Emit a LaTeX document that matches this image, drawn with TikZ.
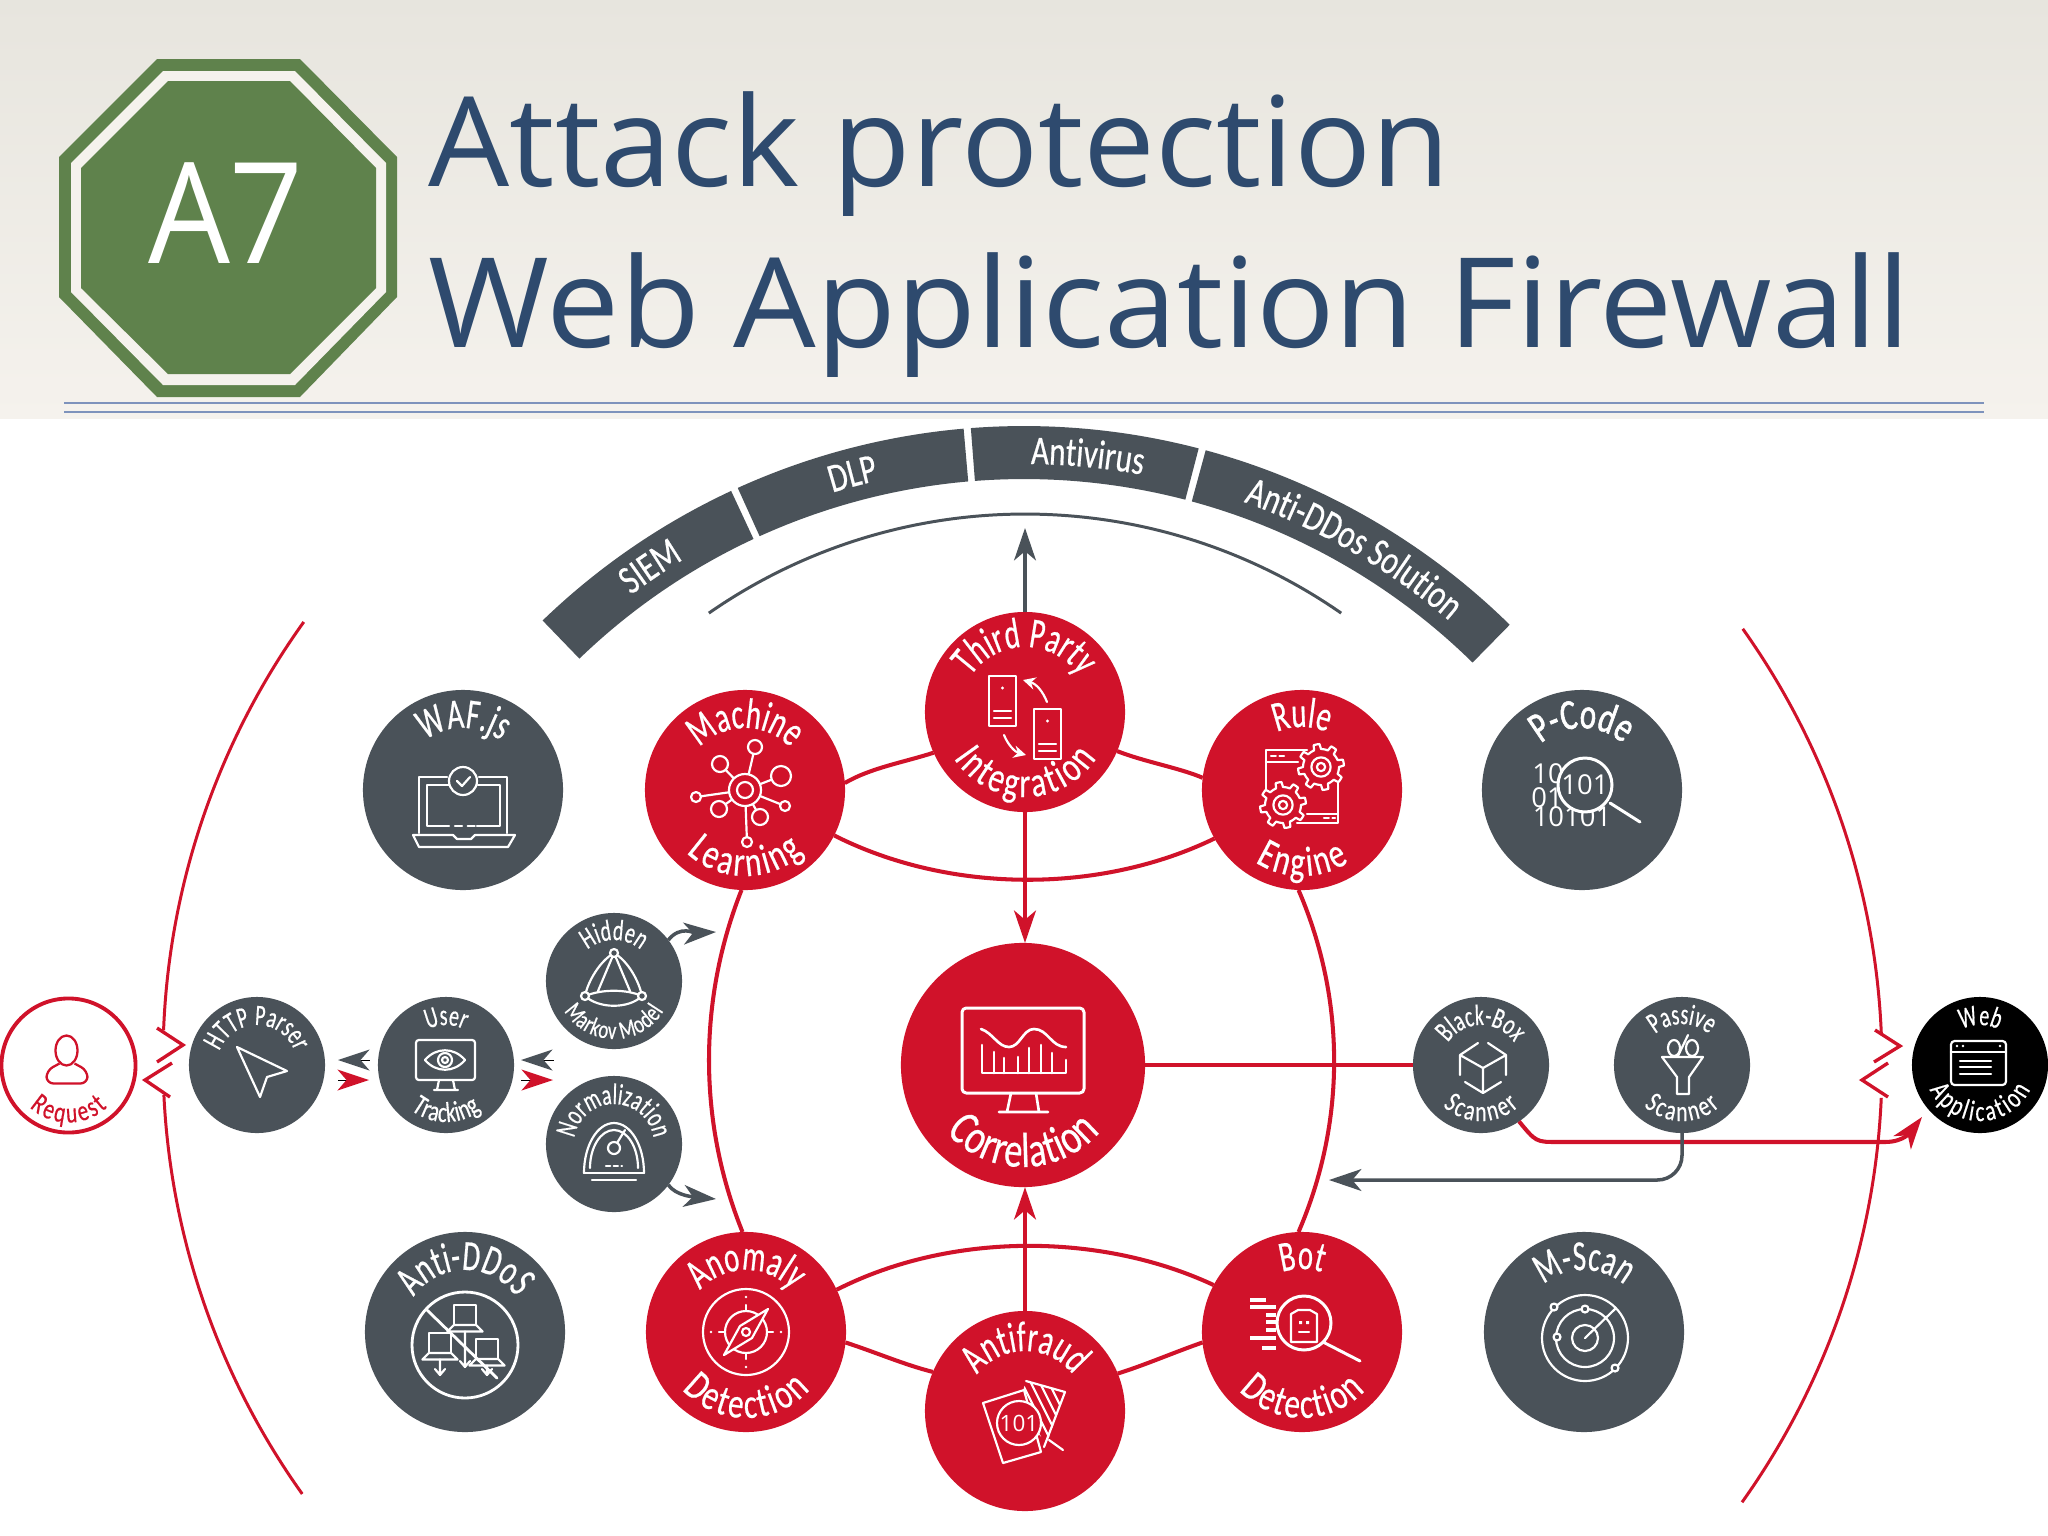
\documentclass[tikz,border=0pt]{standalone}
\usepackage{fontspec}
\usetikzlibrary{decorations.text,arrows.meta,shapes.geometric}
\setmainfont{Open Sans}
\newfontfamily\condT[FakeStretch=0.67,FakeBold=0.5]{Carlito}
\newfontfamily\condB[FakeStretch=0.74,FakeBold=0.5]{Carlito}
\newfontfamily\condM[FakeStretch=0.76,FakeBold=0.5]{Carlito}
\newfontfamily\condP[FakeStretch=0.72,FakeBold=1.4]{Carlito}
\newfontfamily\titleA[FakeStretch=1.026]{Open Sans}
\newfontfamily\titleB[FakeStretch=1.045]{Open Sans}
\definecolor{wafred}{RGB}{208,18,42}
\definecolor{wafgrey}{RGB}{74,82,89}
\definecolor{wafgreen}{RGB}{95,130,76}
\definecolor{waftitle}{RGB}{46,74,110}
\definecolor{wafrule}{RGB}{126,147,188}
\definecolor{paperA}{RGB}{231,229,222}
\definecolor{paperB}{RGB}{241,239,233}
\definecolor{paperC}{RGB}{245,242,237}
\newcommand\fBig{\condT\fontsize{12.2}{14}\selectfont\color{white}}
\newcommand\fBigB{\condB\fontsize{12}{14}\selectfont\color{white}}
\newcommand\fPc{\condP\fontsize{12.2}{14}\selectfont\color{white}}
\newcommand\fBand{\condM\fontsize{11.6}{13}\selectfont\color{white}}
\newcommand\fCorr{\condB\fontsize{14}{16}\selectfont\color{white}}
\newcommand\fSm{\condT\fontsize{8.4}{10}\selectfont\color{white}}
\newcommand\fSmB{\condB\fontsize{8.2}{10}\selectfont\color{white}}
\newcommand\fSmm{\condB\fontsize{7.2}{9}\selectfont\color{white}}
\newcommand\fReq{\condB\fontsize{8.2}{10}\selectfont\color{wafred}}
\newcommand\topT[4]{\path[decorate,decoration={text along path,text align=center,text={|#4|#3}}] (#1) ++(178:#2) arc[start angle=178,end angle=2,radius=#2];}
% bottom text: node, baseline radius, half angle of its span, text, font
\newcommand\botT[5]{\path[decorate,decoration={text along path,text align={fit to path},text={|#5|#4}}] (#1) ++({270-#3}:#2) arc[start angle={270-#3},end angle={270+#3},radius=#2];}
\newcommand\sector[2]{\fill[wafgrey] ([shift={(#1:693)}]bandc) arc[start angle=#1,end angle=#2,radius=693] -- ([shift={(#2:640)}]bandc) arc[start angle=#2,end angle=#1,radius=640] -- cycle;}
\newcommand\bandT[3]{\path[decorate,decoration={text along path,text align=center,text={|\fBand|#3}}] ([shift={(#1:655)}]bandc) arc[start angle=#1,end angle=#2,radius=655];}
\newcommand\gearI[3]{\draw[icon,fill=wafred] plot[samples=97,domain=0:360] ({#1+#3*(0.78+0.22*(sin(8*\x)>0))*cos(\x)},{#2+#3*(0.78+0.22*(sin(8*\x)>0))*sin(\x)}) -- cycle; \draw[icon] (#1,#2) circle[radius=#3*0.42] (#1,#2) circle[radius=#3*0.18];}
\newcommand\lapI[4]{\draw[icon] (#1-#3*.5,#2-#3*.45) rectangle (#1+#3*.5,#2+#3*.45);
 \draw[icon,fill=wafgrey] (#1-#3*.5,#2-#3*.45) -- (#1-#3*.8,#2-#3*.75) -- (#1+#3*.8,#2-#3*.75) -- (#1+#3*.5,#2-#3*.45) -- cycle;
 \draw[icon] (#1,#2-#3*.75) -- (#1,#2-#4) (#1-5,#2-#4+6) -- (#1,#2-#4) -- (#1+5,#2-#4+6);}
\tikzset{
 x=0.01cm,y=0.01cm,
 bigred/.style={circle,fill=wafred,minimum size=2cm,inner sep=0pt,outer sep=0pt},
 biggrey/.style={circle,fill=wafgrey,minimum size=2cm,inner sep=0pt,outer sep=0pt},
 smallgrey/.style={circle,fill=wafgrey,minimum size=1.36cm,inner sep=0pt,outer sep=0pt},
 redline/.style={draw=wafred,line width=1.15pt},
 greyline/.style={draw=wafgrey,line width=1.0pt},
 redarc/.style={draw=wafred,line width=.85pt},
 zig/.style={draw=wafred,line width=.95pt},
 icon/.style={draw=white,line width=.62pt,line join=round,line cap=round},
 icontext/.style={text=white,inner sep=0pt},
 tipred/.style={-{Stealth[length=9.2pt,width=6.2pt,inset=2.6pt,fill=wafred]}},
 tipgrey/.style={-{Stealth[length=9.2pt,width=6.2pt,inset=2.6pt,fill=wafgrey]}},
}
\begin{document}
\begin{tikzpicture}
\useasboundingbox (0,0) rectangle (2048,-1536);
\fill[white] (0,0) rectangle (2048,-1536);
\shade[top color=paperA,middle color=paperB,bottom color=paperC] (0,0) rectangle (2048,-418);
% header
\fill[wafgreen] (157,-59)--(300,-59)--(397,-157)--(397,-297)--(300,-397)--(157,-397)--(59,-297)--(59,-157)--cycle;
\fill[paperC] (163,-71)--(295,-71)--(386,-163)--(386,-292)--(295,-385)--(163,-385)--(71,-292)--(71,-163)--cycle;
\fill[wafgreen] (168,-81)--(290,-81)--(376,-168)--(376,-288)--(290,-374)--(168,-374)--(81,-288)--(81,-168)--cycle;
\node[anchor=base,text=white,inner sep=0pt] (a7) at (226,-263) {\fontspec{Open Sans}[FakeStretch=.92]\fontsize{40}{44}\selectfont A7};
\node[anchor=base west,text=waftitle,inner sep=0pt] (t1) at (428,-186) {\titleA\fontsize{35.5}{40}\selectfont Attack protection};
\node[anchor=base west,text=waftitle,inner sep=0pt] (t2) at (428,-347) {\titleB\fontsize{35.5}{40}\selectfont Web Application Firewall};
\draw[wafrule,line width=.6pt] (64,-403) -- (1984,-403) (64,-412) -- (1984,-412);
% band
\coordinate (bandc) at (1024,-1119);
\sector{134}{115}\sector{114.4}{95}\sector{94.4}{75.4}\sector{74.8}{45.5}
\bandT{133.6}{114.6}{SIEM}\bandT{114.6}{95.2}{DLP}\bandT{94}{75}{Antivirus}\bandT{74.6}{45.3}{Anti-DDos Solution}
\coordinate (thinc) at (1025,-1068);
\draw[wafgrey,line width=.85pt] ([shift={(124.8:554)}]thinc) arc[start angle=124.8,end angle=55.2,radius=554];
% outer rings
\coordinate (lc) at (912,-1059);
\coordinate (rc) at (1129,-1065);
\draw[redarc] ([shift={(144.3:749)}]lc) arc[start angle=144.3,end angle=177.8,radius=749];
\draw[redarc] ([shift={(182.75:749)}]lc) arc[start angle=182.75,end angle=215.5,radius=749];
\draw[redarc] ([shift={(35.4:753)}]rc) arc[start angle=35.4,end angle=2.3,radius=753];
\draw[redarc] ([shift={(-2.5:753)}]rc) arc[start angle=-2.5,end angle=-35.5,radius=753];
\draw[zig] (157,-1028)--(183,-1045)--(157,-1062);
\draw[zig] (172,-1063)--(145,-1080)--(170,-1097);
\draw[zig] (1875,-1030)--(1900,-1046)--(1874,-1062);
\draw[zig] (1888,-1063)--(1862,-1080)--(1888,-1097);
% nodes
\node[bigred] (tp) at (1025,-712) {};
\node[bigred] (ml) at (745,-790) {};
\node[bigred] (re) at (1302,-790) {};
\node[biggrey] (waf) at (463,-790) {};
\node[biggrey] (pc) at (1582,-790) {};
\node[circle,fill=wafred,minimum size=2.44cm,inner sep=0pt,outer sep=0pt] (co) at (1023,-1065) {};
\node[biggrey] (ad) at (465,-1332) {};
\node[bigred] (an) at (746,-1332) {};
\node[bigred] (af) at (1025,-1411) {};
\node[bigred] (bd) at (1302,-1332) {};
\node[biggrey] (ms) at (1584,-1332) {};
\node[circle,fill=white,draw=wafred,line width=1.1pt,minimum size=1.34cm,inner sep=0pt,outer sep=0pt] (rq) at (68.5,-1065.5) {};
\node[smallgrey] (hp) at (257,-1065) {};
\node[smallgrey] (ut) at (446,-1065) {};
\node[smallgrey] (hm) at (614,-981) {};
\node[smallgrey] (no) at (614,-1144) {};
\node[smallgrey] (bb) at (1481,-1065) {};
\node[smallgrey] (ps) at (1682,-1065) {};
\node[smallgrey,fill=black] (wa) at (1980,-1065) {};
% red connectors
\draw[redline] (ml.4) .. controls (870,-768) and (905,-762) .. (tp.204.5);
\draw[redline] (tp.-23.7) .. controls (1145,-762) and (1180,-768) .. (re.173);
\draw[redline] (ml.-27) .. controls (950,-894) and (1100,-894) .. (re.209);
\draw[redline] (an.25) .. controls (950,-1232) and (1100,-1232) .. (bd.152.4);
\draw[redline] (an.-6) .. controls (875,-1352) and (905,-1365) .. (af.157);
\draw[redline] (bd.186) .. controls (1175,-1352) and (1145,-1365) .. (af.22.8);
\draw[redline] (ml.-92) .. controls (698,-1000) and (698,-1122) .. (an.92);
\draw[redline] (re.-92) .. controls (1346,-1000) and (1346,-1122) .. (bd.92);
\draw[redline,tipred] (tp.south) -- (co.north -| tp.south);
\draw[redline,tipred] (af.north) -- (co.south -| af.north);
\draw[redline] (co.east) -- (bb.west);
\draw[redline,tipred] (bb.-56) .. controls (1536,-1142) .. (1558,-1142) -- (1885,-1142) .. controls (1905,-1142) and (1912,-1130) .. (1922,-1117);
% grey connectors
\coordinate (uptip) at (1025,-528);
\draw[greyline,tipgrey] (tp.north) -- (uptip);
\draw[greyline,rounded corners=7pt,tipgrey] (ps.south) -- (1682,-1180) -- (1329,-1180);
\draw[greyline,tipgrey] (hm.37) .. controls (680,-925) and (695,-933) .. (716,-932);
\draw[greyline,tipgrey] (no.-37) .. controls (676,-1196) and (695,-1197) .. (716,-1199);
% little tips
\draw[line width=0pt,-{Stealth[length=9pt,width=6pt,inset=2.6pt,fill=wafgrey,wafgrey]}] (369,-1060) -- (338,-1060);
\draw[line width=0pt,-{Stealth[length=9pt,width=6pt,inset=2.6pt,fill=wafred,wafred]}] (338,-1080) -- (369,-1080);
\draw[line width=0pt,-{Stealth[length=9pt,width=6pt,inset=2.6pt,fill=wafgrey,wafgrey]}] (553,-1060) -- (521,-1060);
\draw[line width=0pt,-{Stealth[length=9pt,width=6pt,inset=2.6pt,fill=wafred,wafred]}] (521,-1080) -- (553,-1080);
% texts
\topT{tp}{65}{Third Party}{\fBig}\botT{tp}{85}{57}{Integration}{\fBigB}
\topT{ml}{62}{Machine}{\fBig}\botT{ml}{86}{43}{Learning}{\fBigB}
\topT{re}{63}{Rule}{\fBig}\botT{re}{86}{33}{Engine}{\fBigB}
\topT{waf}{62}{WAF.js}{\fBig}
\topT{pc}{62}{P-Code}{\fPc}
\botT{co}{102}{49}{Correlation}{\fCorr}
\topT{ad}{62}{Anti-DDoS}{\fBig}
\topT{an}{62}{Anomaly}{\fBig}\botT{an}{86}{48}{Detection}{\fBigB}
\topT{af}{60}{Antifraud}{\fBig}
\topT{bd}{63}{Bot}{\fBig}\botT{bd}{86}{47}{Detection}{\fBigB}
\topT{ms}{62}{M-Scan}{\fBig}
\botT{rq}{57}{43}{Request}{\fReq}
\topT{hp}{40}{HTTP Parser}{\fSm}
\topT{ut}{40}{User}{\fSm}\botT{ut}{57}{38}{Tracking}{\fSmB}
\topT{hm}{41}{Hidden}{\fSm}\botT{hm}{58}{59}{Markov Model}{\fSmm}
\topT{no}{40}{Normalization}{\fSm}
\topT{bb}{40}{Black-Box}{\fSm}\botT{bb}{56}{43}{Scanner}{\fSmB}
\topT{ps}{41}{Passive}{\fSm}\botT{ps}{56}{43}{Scanner}{\fSmB}
\topT{wa}{40}{Web}{\fSm}\botT{wa}{56}{64}{Application}{\fSmB}
% icon: machine learning
\begin{scope}[shift={(745,-790)}]
 \draw[icon] (0,0)--(10,43) (0,0)--(-25,26) (0,0)--(36,14) (0,0)--(-49,-7) (0,0)--(40,-16) (0,0)--(-26,-19) (0,0)--(15,-27) (0,0)--(2,-52);
 \foreach \a/\b/\r in {10/43/7,-25/26/8,36/14/10,-49/-7/5,40/-16/5,-26/-19/8,15/-27/8,2/-52/5}{\draw[icon,fill=wafred] (\a,\b) circle[radius=\r];}
 \draw[icon,fill=wafred] (0,0) circle[radius=16]; \draw[icon] (0,0) circle[radius=8];
\end{scope}
% icon: WAF.js
\begin{scope}[shift={(463,-790)}]
 \draw[icon] (-16,13) -- (-44,13) -- (-44,-43) (44,-43) -- (44,13) -- (16,13) (-14,5) -- (-36,5) -- (-36,-36) -- (-14,-36) (14,-36) -- (37,-36) -- (37,5) -- (15,5);
 \draw[icon,dash pattern=on 2pt off 1.6pt] (-8,-36) -- (12,-36);
 \draw[icon] (0,9) circle[radius=14] (-6,9) -- (-1,4) -- (7,13);
 \draw[icon] (-50,-45) -- (-10,-45) -- (-6,-49) -- (8,-49) -- (12,-45) -- (52,-45) -- (45,-57) -- (-44,-57) -- cycle;
\end{scope}
% icon: third party
\begin{scope}[shift={(1025,-712)}]
 \foreach \x/\y in {-36/-14,9/-47}{
  \draw[icon] (\x,\y) rectangle (\x+27,\y+50);
  \fill[white] (\x+13.5,\y+38) circle[radius=1.6];
  \draw[icon] (\x+5,\y+15) -- (\x+22,\y+15) (\x+5,\y+8) -- (\x+22,\y+8);
 }
 \draw[icon,-{Stealth[length=3.5pt,width=3.5pt]}] (22,10) .. controls (18,20) and (12,28) .. (-2,32);
 \draw[icon,-{Stealth[length=3.5pt,width=3.5pt]}] (-21,-23) .. controls (-17,-33) and (-10,-40) .. (1,-43);
\end{scope}
% icon: rule engine
\begin{scope}[shift={(1302,-790)}]
 \draw[icon] (-36,-5) -- (-36,40) -- (5,40) (36,10) -- (36,-33) -- (-5,-33);
 \draw[icon] (-36,28) -- (-4,28) (5,-24) -- (35,-24);
 \draw[icon,dash pattern=on 1.4pt off 1pt] (-31,34) -- (-18,34) (22,-28) -- (33,-28);
 \gearI{19}{23}{23}
 \gearI{-19}{-15}{23}
\end{scope}
% icon: p-code
\begin{scope}[shift={(1582,-790)}]
 \node[icontext,anchor=center] (pc10a) at (-34,16) {\fontsize{7.8}{8}\selectfont 10};
 \node[icontext,anchor=center] (pc01) at (-35,-8) {\fontsize{7.8}{8}\selectfont 01};
 \node[icontext,anchor=center] (pc10101) at (-10,-27) {\fontsize{7.8}{8}\selectfont 10101};
 \draw[icon,fill=wafgrey,line width=.85pt] (3,5) circle[radius=27];
 \node[icontext,anchor=center] (pc101) at (3,5) {\fontsize{7.8}{8}\selectfont 101};
 \draw[icon,line width=.85pt] (28,-13) -- (58,-32);
\end{scope}
% icon: correlation
\begin{scope}[shift={(1023,-1065)}]
 \draw[icon,rounded corners=1.2pt,line width=.85pt] (-61,-28) rectangle (61,57);
 \draw[icon,line width=.75pt] (-12,-28) -- (-16,-47) (13,-28) -- (16,-47) (-24,-47) -- (25,-47);
 \draw[icon,line width=.75pt] (-42,36) .. controls (-30,32) and (-25,18) .. (-14,18) .. controls (-3,18) and (0,36) .. (11,36) .. controls (25,36) and (28,18) .. (43,18);
 \draw[icon,line width=.75pt] (-41,20) -- (-41,-8) -- (43,-8) -- (43,5);
 \foreach \x/\y in {-29/13,-19/7,-5/8,6/17,18/20,29/12}{\draw[icon,line width=.75pt] (\x,-8) -- (\x,\y);}
\end{scope}
% icon: anti-ddos
\begin{scope}[shift={(465,-1332)}]
 \lapI{0}{17}{22}{52}
 \lapI{-25}{-11}{22}{32}
 \lapI{22}{-17}{22}{26}
 \draw[icon,line width=.8pt] (0,-13) circle[radius=53];
 \draw[icon,line width=.8pt] (-38,22) -- (32,-46);
\end{scope}
% icon: anomaly
\begin{scope}[shift={(746,-1332)}]
 \draw[icon] (0,0) circle[radius=43] (0,0) circle[radius=21] (0,0) circle[radius=5];
 \draw[icon,fill=wafred] (22,23) -- (6,-6) -- (-22,-23) -- (-6,6) -- cycle;
 \fill[wafred] (0,0) circle[radius=4.5]; \draw[icon] (0,0) circle[radius=4];
 \draw[icon] (0,21) -- (0,27) (0,-21) -- (0,-27) (21,0) -- (27,0) (-21,0) -- (-27,0);
 \fill[white] (0,35) circle[radius=1.3] (0,-35) circle[radius=1.3] (35,0) circle[radius=1.3] (-35,0) circle[radius=1.3];
\end{scope}
% icon: antifraud
\begin{scope}[shift={(1025,-1411)}]
 \begin{scope}
  \clip (1,30) -- (40,19) -- (22,-32) -- (-8,0) -- cycle;
  \foreach \d in {0,9,...,108}{\draw[icon] (-50+\d,-40) -- (-90+\d,40);}
 \end{scope}
 \draw[icon] (1,30) -- (40,19) -- (19,-36);
 \draw[icon,fill=wafred] (-42,8) -- (-1,21) -- (16,-41) -- (-22,-52) -- cycle;
 \draw[icon,fill=wafred] (-6,-12) circle[radius=22];
 \draw[icon] (24,-29) -- (38,-39);
 \node[icontext] (af101) at (-6,-12) {\fontsize{6.4}{7}\selectfont 101};
\end{scope}
% icon: bot detection
\begin{scope}[shift={(1302,-1332)}]
 \draw[icon,line width=.85pt] (2,9) circle[radius=27] (21,-10) -- (58,-29);
 \draw[icon] (-11,-10) -- (-11,18) -- (-4,22) -- (8,22) -- (15,18) -- (15,-10) -- cycle;
 \fill[white] (-3,8) rectangle (0,11) (4,8) rectangle (7,11);
 \draw[icon] (-3,0) -- (7,0);
 \foreach \a/\b/\c in {-52/-36/32,-52/-26/25,-36/-26/17,-36/-26/10,-36/-26/2,-52/-26/-6,-40/-26/-16}{\draw[white,line width=1.1pt] (\a,\c) -- (\b,\c);}
\end{scope}
% icon: m-scan
\begin{scope}[shift={(1584,-1332)}]
 \draw[icon] (1,-6) circle[radius=43] (1,-6) circle[radius=29] (1,-6) circle[radius=13] (1,-6) -- (31,23);
 \foreach \a/\b in {-30/25,1/23,-27/-5,31/-36}{\draw[icon,fill=wafgrey] (\a,\b) circle[radius=3.5];}
\end{scope}
% icon: request
\begin{scope}[shift={(68.5,-1065.5)}]
 \draw[wafred,line width=.65pt,line join=round] (-2,15) ellipse[x radius=11,y radius=15];
 \draw[wafred,line width=.65pt,line join=round,rounded corners=2pt] (-9,2) -- (-22,-5) -- (-22,-18) -- (19,-18) -- (19,-5) -- (6,2);
\end{scope}
% icon: http parser
\begin{scope}[shift={(257,-1065)}]
 \draw[icon] (-20,18) -- (30,-6) -- (10,-12) -- (3,-32) -- cycle;
\end{scope}
% icon: user tracking
\begin{scope}[shift={(446,-1065)}]
 \draw[icon,rounded corners=.8pt] (-30,-15) rectangle (29,25);
 \draw[icon] (-7,-15) -- (-9,-25) (7,-15) -- (9,-25) (-12,-25) -- (12,-25);
 \draw[icon] (-21,5) .. controls (-10,18) and (8,18) .. (19,5) .. controls (8,-8) and (-10,-8) .. (-21,5);
 \draw[icon] (-1,5) circle[radius=7] (-1,5) circle[radius=3];
\end{scope}
% icon: hidden markov
\begin{scope}[shift={(614,-981)}]
 \draw[icon] (0,28) .. controls (-14,20) and (-26,0) .. (-29,-15) .. controls (-15,-28) and (15,-28) .. (28,-15) .. controls (25,0) and (14,20) .. (0,28);
 \draw[icon] (0,28) -- (-16,-10) (0,28) -- (16,-10) (-29,-15) .. controls (-12,-8) and (12,-8) .. (28,-15);
 \foreach \a/\b in {0/28,-29/-15,28/-15}{\draw[icon,fill=wafgrey] (\a,\b) circle[radius=4];}
\end{scope}
% icon: normalization
\begin{scope}[shift={(614,-1144)}]
 \draw[icon] (-30,-29) arc[start angle=180,end angle=0,x radius=30,y radius=50];
 \draw[icon] (-24,-24) arc[start angle=180,end angle=0,x radius=24,y radius=38];
 \draw[icon] (-22,-36) -- (22,-36) (-30,-29) -- (30,-29);
 \draw[icon] (0,-4) circle[radius=6] (3,1) -- (11,14);
 \draw[icon,dash pattern=on 1.2pt off 1pt] (-8,-22) -- (8,-22);
\end{scope}
% icon: black-box
\begin{scope}[shift={(1481,-1065)}]
 \draw[icon] (-3,22) -- (-21,10) -- (-21,-10) (7,22) -- (25,10) -- (25,-10) (-21,10) -- (2,-3) -- (25,10) (2,-3) -- (2,-28) -- (-16,-17) (2,-28) -- (20,-17);
\end{scope}
% icon: passive
\begin{scope}[shift={(1682,-1065)}]
 \draw[icon] (-20,8) -- (21,8) -- (7,-12) -- (7,-29) -- (-5,-29) -- (-5,-12) -- cycle;
 \draw[icon] (-8,17) ellipse[x radius=6,y radius=8] (10,17) ellipse[x radius=6,y radius=8] (-4,9) -- (6,30);
\end{scope}
% icon: web app
\begin{scope}[shift={(1980,-1065)}]
 \draw[icon,rounded corners=1pt] (-29,-20) rectangle (26,24);
 \draw[icon] (-29,13) -- (26,13) (-20,4) -- (11,4) (-20,-2) -- (11,-2) (-20,-9) -- (11,-9);
 \fill[white] (-23,19) circle[radius=1.4] (-17,19) circle[radius=1.4] (20,19) circle[radius=1.4];
\end{scope}
\end{tikzpicture}
\end{document}
